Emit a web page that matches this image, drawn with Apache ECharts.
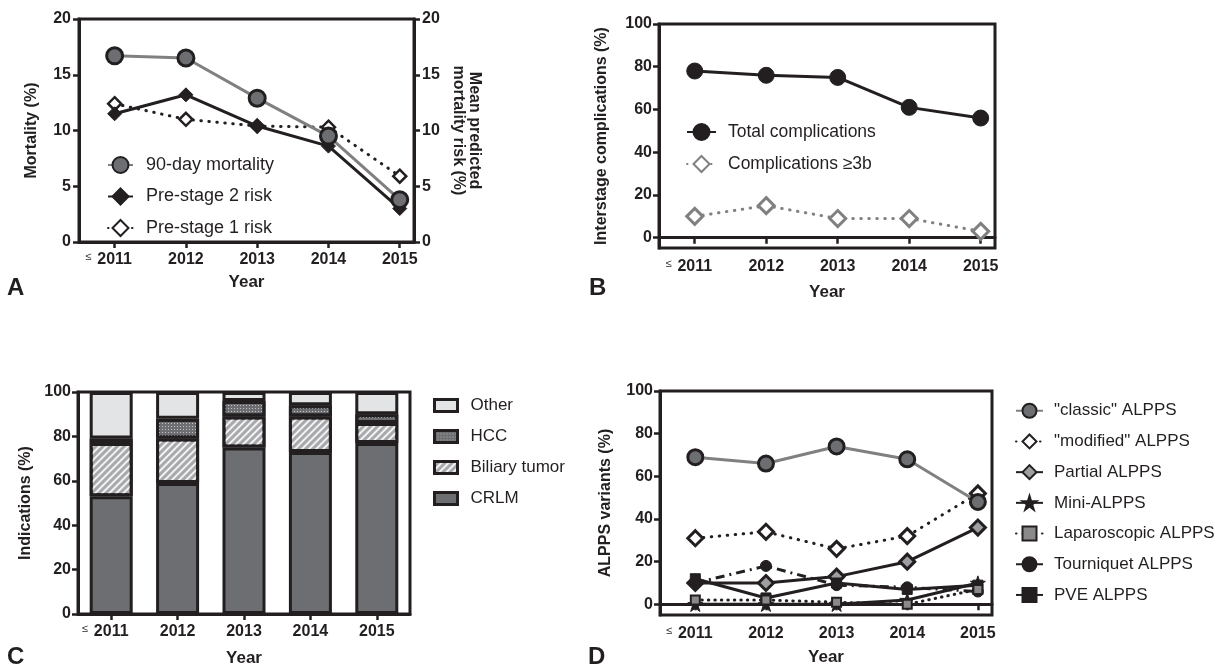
<!DOCTYPE html>
<html><head><meta charset="utf-8">
<script src="https://cdn.jsdelivr.net/npm/echarts@6/dist/echarts.min.js"></script>
<style>html,body{margin:0;padding:0;background:#fff}#c{width:1219px;height:668px}</style>
</head><body><div id="c"></div>
<script>
// ---------- data ----------
const years = [2011, 2012, 2013, 2014, 2015];
const yearLabels = ['2011', '2012', '2013', '2014', '2015'];
const pctTicks = [0, 20, 40, 60, 80, 100];
// Panel A
const mortality90 = [16.7, 16.5, 12.9, 9.5, 3.8];
const preStage2Risk = [11.5, 13.2, 10.4, 8.6, 3.0];
const preStage1Risk = [12.4, 11.0, 10.4, 10.3, 5.9];
// Panel B
const totalComplications = [78, 76, 75, 61, 56];
const complications3b = [10, 15, 9, 9, 3];
// Panel C
const crlm = [53, 59, 75, 73, 77];
const biliary = [24, 20, 14, 16, 9];
const hcc = [2, 9, 7, 5, 4];
const other = [21, 12, 4, 6, 10];
// Panel D
const classicAlpps = [69, 66, 74, 68, 48];
const modifiedAlpps = [31, 34, 26, 32, 52];
const partialAlpps = [10, 10, 13, 20, 36];
const miniAlpps = [0, 0, 0, 2, 10];
const laparoscopicAlpps = [2, 2, 1, 0, 7];
const tourniquetAlpps = [10, 18, 9, 8, 6];
const pveAlpps = [12, 3, 10, 7, 9];

// ---------- styling ----------
const INK = '#231f20';
const FONT = '"Liberation Sans", Arial, Helvetica, sans-serif';
const STAR = 'path://M50,0L61.2,34.5L97.6,34.5L68.2,55.9L79.4,90.5L50,69.1L20.6,90.5L31.8,55.9L2.4,34.5L38.8,34.5Z';
const DOT = [0.5, 7.5];
const pts = arr => years.map((y, i) => [y, arr[i]]);

const rich = {
  le: {fontSize: 11, fontFamily: FONT, color: INK, width: 12, align: 'left', verticalAlign: 'top', lineHeight: 12},
  b: {fontSize: 16, fontWeight: 'bold', fontFamily: FONT, color: INK, lineHeight: 18},
  sp: {width: 12, fontSize: 11}
};
function yearFmt(v) {
  let i = years.indexOf(+v);
  const s = i >= 0 ? yearLabels[i] : String(v);
  return i === 0 ? '{le|≤}{b|' + s + '}{sp| }' : '{b|' + s + '}';
}
const nameStyle = {fontSize: 16, fontWeight: 'bold', color: INK, fontFamily: FONT};
const axisLineStyle = {show: true, lineStyle: {color: INK, width: 3}};
const tickStyle = {color: INK, width: 2.5};

function xYearAxis(gridIndex, margin, nameGap) {
  return {
    type: 'value', gridIndex, min: 2010.5, max: 2015.2,
    axisLine: axisLineStyle,
    axisTick: {show: true, customValues: years, length: 6, lineStyle: tickStyle},
    axisLabel: {customValues: years, margin, formatter: yearFmt, rich},
    splitLine: {show: false},
    name: 'Year', nameLocation: 'middle', nameGap,
    nameTextStyle: {fontSize: 17, fontWeight: 'bold', color: INK, fontFamily: FONT}
  };
}
function yAxisOf(gridIndex, o) {
  const ax = {
    type: 'value', gridIndex, min: o.min, max: o.max,
    position: o.position || 'left',
    axisLine: axisLineStyle,
    axisTick: {show: true, length: 6, lineStyle: tickStyle},
    axisLabel: {margin: o.margin || 8, fontSize: 16, fontWeight: 'bold', color: INK, fontFamily: FONT},
    splitLine: {show: false},
    name: o.name, nameLocation: 'middle', nameGap: o.nameGap,
    nameTextStyle: Object.assign({}, nameStyle, o.nameStyle || {})
  };
  if (o.interval) ax.interval = o.interval;
  if (o.ticks) { ax.axisTick.customValues = o.ticks; ax.axisLabel.customValues = o.ticks; }
  if (o.nameRotate !== undefined) ax.nameRotate = o.nameRotate;
  return ax;
}
function lineSeries(name, xi, yi, arr, sym, size, fill, border, bw, lcolor, ltype) {
  return {
    name, type: 'line', xAxisIndex: xi, yAxisIndex: yi, data: pts(arr),
    symbol: sym, symbolSize: size, symbolKeepAspect: true, showSymbol: true,
    itemStyle: {color: fill, borderColor: border, borderWidth: bw},
    lineStyle: {color: lcolor, width: 3, type: ltype, cap: Array.isArray(ltype) && ltype[0] < 1 ? 'round' : 'butt'},
    emphasis: {disabled: true}, silent: true
  };
}
function barSeries(name, arr, color, decal) {
  const s = {
    name, type: 'bar', stack: 'ind', xAxisIndex: 2, yAxisIndex: 3, data: arr,
    barWidth: 43,
    itemStyle: {color, borderColor: INK, borderWidth: 3},
    emphasis: {disabled: true}, silent: true
  };
  if (decal) s.itemStyle.decal = decal;
  return s;
}
const grid = (left, top, width, height) => ({left, top, width, height, show: true, borderColor: INK, borderWidth: 3, backgroundColor: 'transparent'});
const legendText = (fs, pad) => ({fontSize: fs, color: INK, fontFamily: FONT, padding: [0, 0, 0, pad], lineHeight: 20});
const letter = (t, left, top) => ({text: t, left, top, padding: 0, textStyle: {fontSize: 24, fontWeight: 'bold', color: INK, fontFamily: FONT}});

const option = {
  animation: false,
  backgroundColor: '#fff',
  title: [letter('A', 7, 276), letter('B', 589, 276), letter('C', 7, 645), letter('D', 588, 645)],
  grid: [grid(79, 19, 335, 223), grid(659, 24, 336, 224), grid(78, 392, 332, 222), grid(660, 391, 332, 224)],
  xAxis: [
    xYearAxis(0, 9, 32),
    xYearAxis(1, 10, 36),
    {
      type: 'category', gridIndex: 2, data: yearLabels,
      axisLine: axisLineStyle,
      axisTick: {show: true, alignWithLabel: true, length: 6, lineStyle: tickStyle},
      axisLabel: {margin: 9, interval: 0, formatter: yearFmt, rich},
      name: 'Year', nameLocation: 'middle', nameGap: 36,
      nameTextStyle: {fontSize: 17, fontWeight: 'bold', color: INK, fontFamily: FONT}
    },
    xYearAxis(3, 10, 34)
  ],
  yAxis: [
    yAxisOf(0, {min: 0, max: 20, interval: 5, name: 'Mortality (%)', nameGap: 39}),
    yAxisOf(0, {min: 0, max: 20, interval: 5, position: 'right', name: 'Mean predicted\nmortality risk (%)', nameGap: 36, nameRotate: -90, nameStyle: {lineHeight: 16}}),
    yAxisOf(1, {min: -4.8, max: 100, ticks: pctTicks, name: 'Interstage complications (%)', nameGap: 49, margin: 7}),
    yAxisOf(2, {min: 0, max: 100, interval: 20, name: 'Indications (%)', nameGap: 44, margin: 7}),
    yAxisOf(3, {min: -5, max: 100, ticks: pctTicks, name: 'ALPPS variants (%)', nameGap: 46, margin: 7})
  ],
  legend: [
    {orient: 'vertical', left: 102, top: 150, itemWidth: 25, itemHeight: 20, itemGap: 11.5, selectedMode: false,
      data: ['90-day mortality', 'Pre-stage 2 risk', 'Pre-stage 1 risk'], textStyle: legendText(18, 8)},
    {orient: 'vertical', left: 681, top: 117, itemWidth: 29, itemHeight: 20, itemGap: 12, selectedMode: false,
      data: ['Total complications', 'Complications ≥3b'], textStyle: legendText(17.5, 7)},
    {orient: 'vertical', left: 428, top: 392, itemWidth: 23, itemHeight: 12, itemGap: 14, selectedMode: false, icon: 'rect',
      itemStyle: {borderColor: INK, borderWidth: 3},
      data: ['Other', 'HCC', 'Biliary tumor', 'CRLM'], textStyle: Object.assign(legendText(17, 8), {lineHeight: 14})},
    {orient: 'vertical', left: 1010, top: 397, itemWidth: 27, itemHeight: 17.5, itemGap: 13.2, selectedMode: false,
      data: ['"classic" ALPPS', '"modified" ALPPS', 'Partial ALPPS', 'Mini-ALPPS', 'Laparoscopic ALPPS', 'Tourniquet ALPPS', 'PVE ALPPS'],
      textStyle: Object.assign(legendText(17, 6), {lineHeight: 17.5})}
  ],
  series: [
    // Panel A
    lineSeries('Pre-stage 1 risk', 0, 1, preStage1Risk, 'diamond', 13, '#fff', INK, 2.5, INK, DOT),
    lineSeries('Pre-stage 2 risk', 0, 1, preStage2Risk, 'diamond', 14, INK, INK, 1, INK, 'solid'),
    lineSeries('90-day mortality', 0, 0, mortality90, 'circle', 16, '#6d6e71', INK, 3, '#808080', 'solid'),
    // Panel B
    lineSeries('Total complications', 1, 2, totalComplications, 'circle', 16, INK, INK, 1, INK, 'solid'),
    lineSeries('Complications ≥3b', 1, 2, complications3b, 'diamond', 16, '#fff', '#808080', 3, '#808080', DOT),
    // Panel C
    barSeries('CRLM', crlm, '#6d6e71'),
    barSeries('Biliary tumor', biliary, '#a7a9ac', {symbol: 'rect', color: 'rgba(255,255,255,0.85)', dashArrayX: [1, 0], dashArrayY: [2, 3], rotation: -Math.PI / 4}),
    barSeries('HCC', hcc, '#6d6e71', {symbol: 'rect', symbolSize: 1, color: '#c4c4c4', dashArrayX: [1, 2], dashArrayY: [1, 2]}),
    barSeries('Other', other, '#e3e4e5'),
    // Panel D
    lineSeries('Partial ALPPS', 3, 4, partialAlpps, 'diamond', 15, '#9d9fa2', INK, 3, INK, 'solid'),
    lineSeries('Tourniquet ALPPS', 3, 4, tourniquetAlpps, 'circle', 11, INK, INK, 1, INK, [9, 5, 2, 5]),
    lineSeries('PVE ALPPS', 3, 4, pveAlpps, 'rect', 10, INK, INK, 1, INK, 'solid'),
    lineSeries('Mini-ALPPS', 3, 4, miniAlpps, STAR, 15, INK, INK, 1, INK, 'solid'),
    lineSeries('Laparoscopic ALPPS', 3, 4, laparoscopicAlpps, 'rect', 9, '#8a8a8a', INK, 2, INK, [0.5, 6]),
    lineSeries('"modified" ALPPS', 3, 4, modifiedAlpps, 'diamond', 15, '#fff', INK, 3, INK, DOT),
    lineSeries('"classic" ALPPS', 3, 4, classicAlpps, 'circle', 15, '#6d6e71', INK, 3, '#808080', 'solid')
  ]
};
const chart = echarts.init(document.getElementById('c'), null, {renderer: 'canvas'});
chart.setOption(option);
</script></body></html>
